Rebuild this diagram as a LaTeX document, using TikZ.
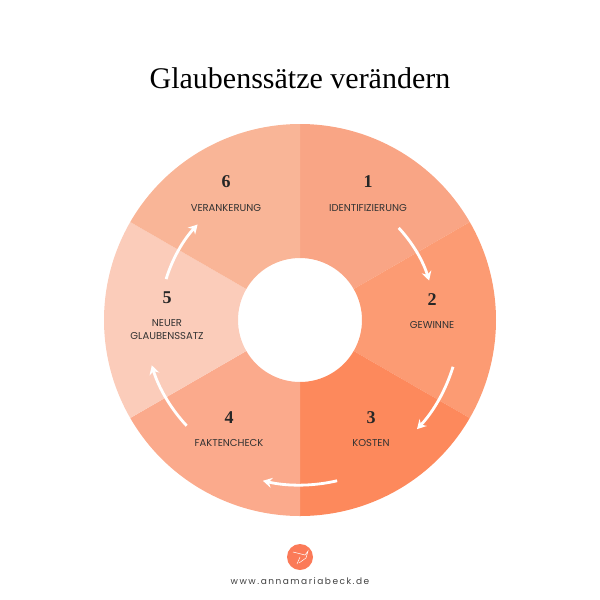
\documentclass[tikz,border=0pt]{standalone}
\usepackage{fontspec}
\setmainfont{Liberation Serif}
\newfontfamily\labfont{Poppins}
\usetikzlibrary{arrows.meta,calc}
\definecolor{cA}{HTML}{F9A585}
\definecolor{cB}{HTML}{FC9B73}
\definecolor{cC}{HTML}{FD895C}
\definecolor{cD}{HTML}{FBAA8C}
\definecolor{cE}{HTML}{FBCCBA}
\definecolor{cF}{HTML}{F9B597}
\definecolor{logo}{HTML}{FB7A58}
\begin{document}
\begin{tikzpicture}[x=1pt,y=-1pt,
  num/.style={font=\fontsize{18}{18}\selectfont\bfseries,text=black!85},
  lab/.style={font=\labfont\fontsize{10}{13}\selectfont,text=black!80,align=center},
  cyc/.style={white,line width=2.8pt,-{Stealth[length=9pt,width=10pt]}}]
\useasboundingbox (0,0) rectangle (600,600);
\coordinate (c) at (300,320);
\foreach \a/\col in {30/cA,-30/cB,-90/cC,-150/cD,150/cE,90/cF}{
  \fill[\col] ($(c)+(-\a:196)$) arc[start angle=-\a, end angle=-\a-60, radius=196] -- ($(c)+(-\a-60:62)$) arc[start angle=-\a-60,end angle=-\a,radius=62] -- cycle;
}
\foreach \a/\r in {30/135,-30/160,-90/165,-150/155,150/140}{
  \draw[cyc] ($(c)+(-\a-13:\r)$) arc[start angle=-\a-13,end angle=-\a+13,radius=\r];
}
\node (t) at (300,78) {\fontsize{30}{30}\selectfont Glaubenssätze verändern};
\node[num] (n1) at (368,182) {1}; \node[lab] (l1) at (368,208) {IDENTIFIZIERUNG};
\node[num] (n2) at (432,300) {2}; \node[lab] (l2) at (432,325) {GEWINNE};
\node[num] (n3) at (371,418) {3}; \node[lab] (l3) at (371,443) {KOSTEN};
\node[num] (n4) at (229,418) {4}; \node[lab] (l4) at (229,443) {FAKTENCHECK};
\node[num] (n5) at (167,298) {5}; \node[lab] (l5) at (167,330) {NEUER\\GLAUBENSSATZ};
\node[num] (n6) at (226,182) {6}; \node[lab] (l6) at (226,208) {VERANKERUNG};
\fill[logo] (300,557) circle[radius=13];
\draw[white,line width=0.5pt] (293,552) -- (305,555) -- (308,551) -- (306,558) -- (299,563) (300,557) -- (297,564);
\node[font=\labfont\fontsize{9}{9}\selectfont,text=black!75] (w) at (300,581) {w\,w\,w\,.\,a\,n\,n\,a\,m\,a\,r\,i\,a\,b\,e\,c\,k\,.\,d\,e};
\end{tikzpicture}
\end{document}
